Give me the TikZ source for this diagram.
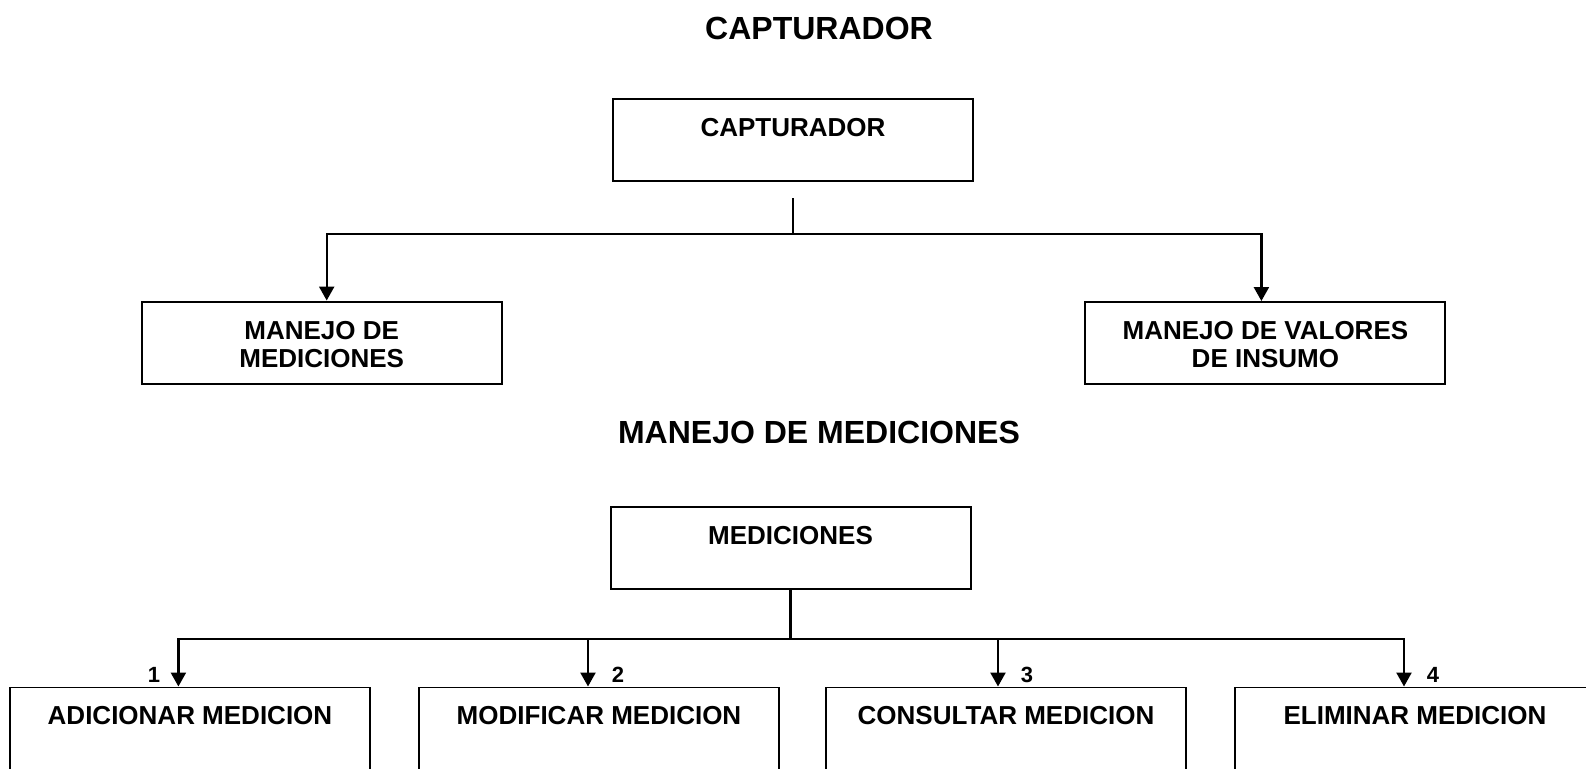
\documentclass[tikz,border=0pt]{standalone}
\usepackage{fontspec}
\setmainfont{Liberation Sans}
\usetikzlibrary{arrows.meta}
\newcommand\tstrut{\rule{0pt}{15pt}}
\begin{document}
\begin{tikzpicture}[x=0.5pt,y=-0.5pt,
  box/.style={draw, line width=1pt, minimum width=180pt, minimum height=41pt,
    inner sep=0pt, align=center, font=\bfseries\fontsize{13}{14.2}\selectfont},
  lowbox/.style={box, line width=0.8pt},
  title/.style={font=\bfseries\fontsize{16}{19}\selectfont, inner sep=0pt},
  num/.style={font=\bfseries\fontsize{11}{13}\selectfont, inner sep=0pt},
  conn/.style={line width=1.2pt},
  arr/.style={conn, -{Triangle[length=7pt,width=7.5pt]}}]
\useasboundingbox (0,0) rectangle (1586,768);

\node[title] (t1) at (819,28) {CAPTURADOR};
\node[title] (t2) at (819,432) {MANEJO DE MEDICIONES};

\node[box] (capt) at (793,140) {\tstrut CAPTURADOR\\\strut};
\node[box] (mm) at (321.7,342.5) {\tstrut MANEJO DE\\\strut MEDICIONES};
\node[box] (mv) at (1265.4,343) {\tstrut MANEJO DE VALORES\\\strut DE INSUMO};

\node[box] (med) at (790.5,548.3) {\tstrut MEDICIONES\\\strut};

\node[lowbox] (b1) at (190,728.3) {\tstrut ADICIONAR MEDICION\\\strut};
\node[lowbox] (b2) at (599,728.3) {\tstrut MODIFICAR MEDICION\\\strut};
\node[lowbox] (b3) at (1006,728.3) {\tstrut CONSULTAR MEDICION\\\strut};
\node[lowbox] (b4) at (1415,728.3) {\tstrut ELIMINAR MEDICION\\\strut};

\node[num] (n1) at (154,675) {1};
\node[num] (n2) at (618,675) {2};
\node[num] (n3) at (1027,675) {3};
\node[num] (n4) at (1433,675) {4};

\coordinate (j1) at (793,234);
\draw[conn] ([yshift=-8pt]capt.south) -- (j1);
\draw[arr] (j1) -| ([xshift=2.5pt]mm.north);
\draw[arr] (j1) -| ([xshift=-2pt]mv.north);

\coordinate (j2) at (790.5,639);
\draw[conn] (med.south) -- (j2);
\draw[arr] (j2) -| ([xshift=-5.8pt]b1.north);
\draw[arr] (j2) -| ([xshift=-5.5pt]b2.north);
\draw[arr] (j2) -| ([xshift=-4pt]b3.north);
\draw[arr] (j2) -| ([xshift=-5.5pt]b4.north);
\end{tikzpicture}
\end{document}
